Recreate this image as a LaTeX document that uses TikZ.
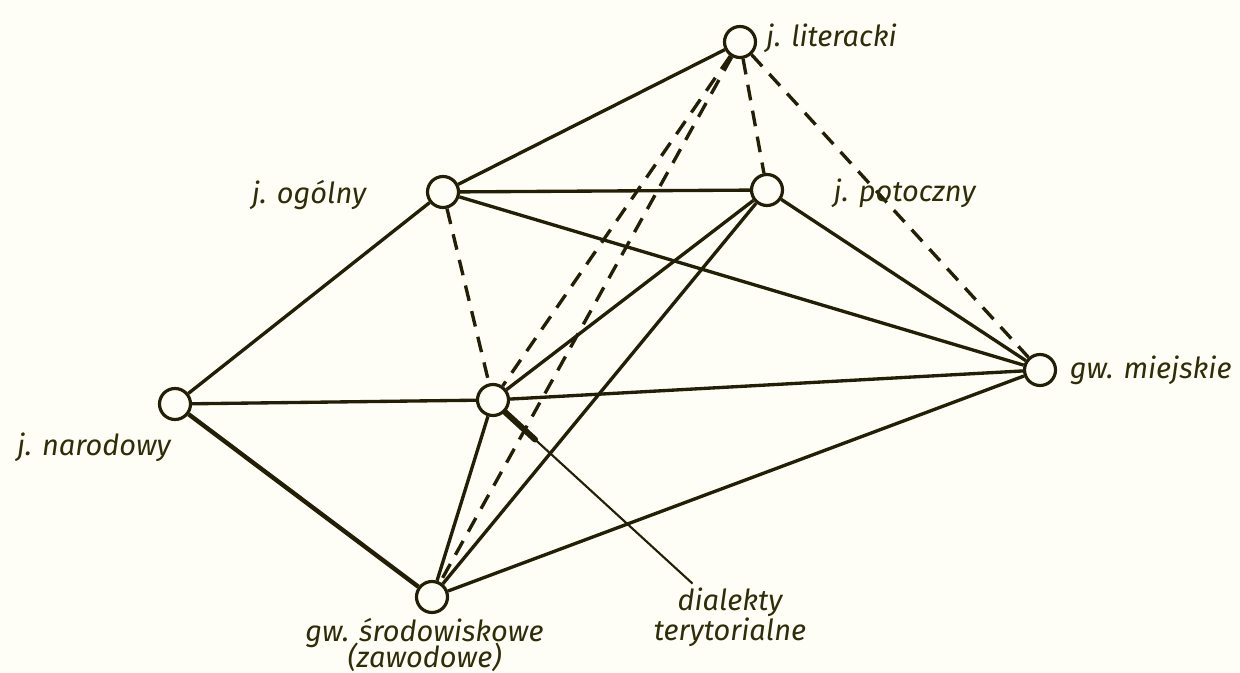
\documentclass[tikz,border=0pt]{standalone}
\usepackage{fontspec}
\setsansfont{Fira Sans}
\usepackage{tikz}
\usetikzlibrary{arrows.meta, positioning, backgrounds, calc}
\definecolor{PaperBg}{HTML}{FFFEF6}
\definecolor{InkLine}{HTML}{221F06}
\definecolor{InkText}{HTML}{2F2C08}

\begin{document}
\begin{tikzpicture}[
    font=\sffamily\itshape\fontsize{16.5}{18}\selectfont,
    vert/.style={
      circle,
      draw=InkLine,
      line width=1.8pt,
      fill=PaperBg,
      inner sep=0pt,
      minimum size=0.62cm,
    },
    tag/.style={
      text=InkText,
      inner sep=1pt,
      align=center,
    },
    link/.style={InkLine, line width=1.9pt},
    dlink/.style={InkLine, line width=1.9pt, dash pattern=on 9pt off 6pt},
  ]
    \useasboundingbox (0,0) rectangle (24.8,-13.46);

    % ---- vertices ----
    \node[vert] (lit) at (14.8,-0.84) {};
    \node[vert] (ogo) at (8.86,-3.84) {};
    \node[vert] (pot) at (15.34,-3.80) {};
    \node[vert] (nar) at (3.50,-8.08) {};
    \node[vert] (dia) at (9.86,-8.00) {};
    \node[vert] (mie) at (20.80,-7.40) {};
    \node[vert] (sro) at (8.64,-11.94) {};

    % ---- labels ----
    \node[tag, right=4pt of lit, yshift=2pt] (litT) {j. literacki};
    \node[tag, left=1.15cm of ogo, yshift=-2pt] (ogoT) {j. ogólny};
    \node[tag, right=0.95cm of pot, yshift=-2pt] (potT) {j. potoczny};
    \node[tag, below left=0.3cm and -0.2cm of nar] (narT) {j. narodowy};
    \node[tag, right=6pt of mie] (mieT) {gw. miejskie};
    \node[tag, below=1pt of sro, xshift=-0.15cm] (sroT)
      {gw. środowiskowe\\[-3pt](zawodowe)};
    \node[tag] (diaT) at (14.6,-12.35) {dialekty\\[-1pt]terytorialne};

    \begin{scope}[on background layer]
      \fill[PaperBg] (0,0) rectangle (24.8,-13.46);
      % solid edges
      \foreach \a/\b in {lit/ogo, ogo/pot, ogo/nar, ogo/mie, pot/mie,
                         pot/dia, pot/sro, nar/dia, dia/mie, dia/sro,
                         sro/mie} {
        \draw[link] (\a) -- (\b);
      }
      \draw[link, line width=2.5pt] (nar) -- (sro);
      % dashed edges
      \foreach \a/\b in {lit/pot, lit/mie, lit/dia, lit/sro, ogo/dia} {
        \draw[dlink] (\a) -- (\b);
      }
      % pointer to the centre
      \coordinate (tip) at ([xshift=-0.75cm,yshift=0.05cm]diaT.north);
      \draw[InkLine, line width=1.2pt] (tip) -- (dia.south east);
      \draw[InkLine, line width=3.4pt, line cap=round]
        (dia.south east) -- ($(dia.south east)!0.16!(tip)$);
    \end{scope}
  \end{tikzpicture}
\end{document}
